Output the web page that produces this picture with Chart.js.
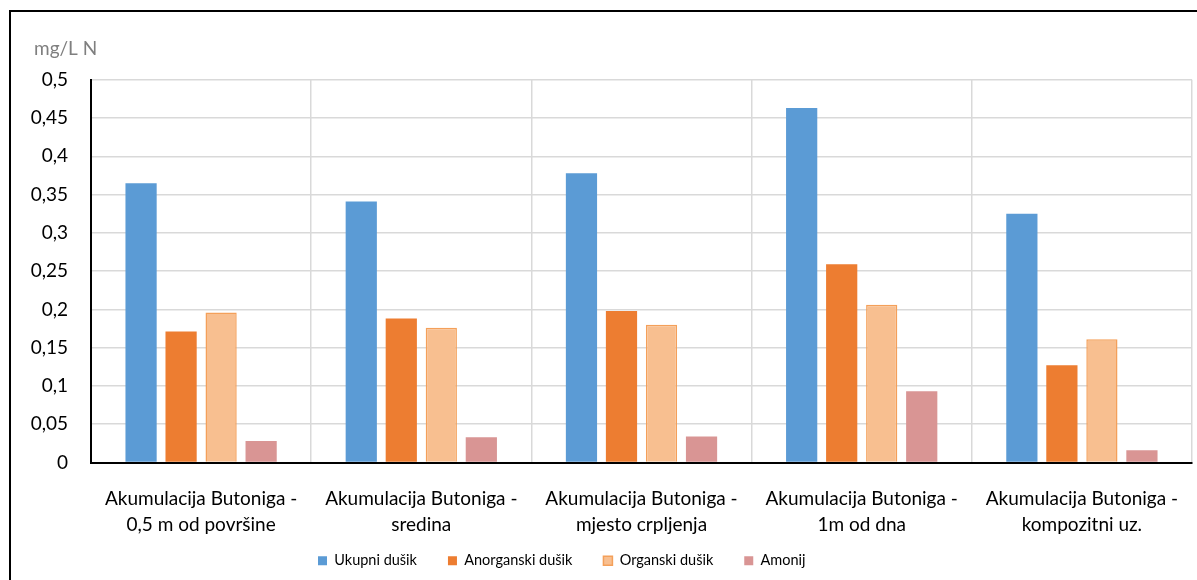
<!DOCTYPE html>
<html>
<head>
<meta charset="utf-8">
<script src="https://cdn.jsdelivr.net/npm/chart.js@4/dist/chart.umd.min.js"></script>
<style>
  body { margin: 0; background: #fff; }
  #wrap { position: relative; width: 1197px; height: 580px; overflow: hidden; }
  #frame { position: absolute; left: 9px; top: 10px; width: 1300px; height: 700px;
           border-left: 2px solid #000; border-top: 2px solid #000; pointer-events: none; }
</style>
</head>
<body>
<div id="wrap">
  <canvas id="chart" width="1197" height="580"></canvas>
  <div id="frame"></div>
</div>
<script>
// data
const categories = [
  ['Akumulacija Butoniga -', '0,5 m od površine'],
  ['Akumulacija Butoniga -', 'sredina'],
  ['Akumulacija Butoniga -', 'mjesto crpljenja'],
  ['Akumulacija Butoniga -', '1m od dna'],
  ['Akumulacija Butoniga -', 'kompozitni uz.']
];
const ukupniDusik = [0.365, 0.341, 0.378, 0.463, 0.325];
const anorganskiDusik = [0.171, 0.188, 0.198, 0.259, 0.127];
const organskiDusik = [0.196, 0.176, 0.180, 0.206, 0.161];
const amonij = [0.028, 0.033, 0.034, 0.093, 0.016];
const unitLabel = 'mg/L N';

const font = "Lato, 'Open Sans', sans-serif";
const legendPad = 31;

// Excel put the legend off centre and low, move it there.
// Also let the axis labels spill out of their boxes without being clipped.
const layoutTweaks = {
  id: 'layoutTweaks',
  afterLayout(chart) {
    const lg = chart.legend;
    const x0 = (lg.left + legendPad + lg.right - lg.lineWidths[0]) / 2;
    const dx = 318 - x0;
    const dy = 561 - (lg.top + legendPad + 7.5);
    lg.left += dx;
    lg.right += dx;
    lg.top += dy;
    lg.bottom += dy;
    chart.scales.y.left = 0;
    chart.scales.x.bottom = chart.height;
  }
};

const ctx = document.getElementById('chart');
new Chart(ctx, {
  type: 'bar',
  data: {
    labels: categories,
    datasets: [
      { label: 'Ukupni dušik', data: ukupniDusik, backgroundColor: '#5B9BD5', borderWidth: 0 },
      { label: 'Anorganski dušik', data: anorganskiDusik, backgroundColor: '#ED7D31', borderWidth: 0 },
      { label: 'Organski dušik', data: organskiDusik, backgroundColor: '#F8BF90', borderColor: '#F4A05A', borderWidth: 1.5 },
      { label: 'Amonij', data: amonij, backgroundColor: '#D99594', borderWidth: 0 }
    ]
  },
  options: {
    responsive: false,
    animation: false,
    layout: { padding: { top: 37, left: 34, right: 5, bottom: 0 } },
    datasets: {
      bar: { categoryPercentage: 0.727, barPercentage: 0.78 }
    },
    scales: {
      x: {
        grid: { color: '#D9D9D9', lineWidth: 1.5, drawTicks: false },
        border: { color: '#000', width: 2 },
        afterFit(scale) {
          scale.height = 62;
          scale.paddingLeft = 0;
          scale.paddingRight = 0;
        },
        ticks: { color: '#000', font: { family: font, size: 19, lineHeight: 1.37 }, padding: 23, maxRotation: 0, autoSkip: false }
      },
      y: {
        min: 0, max: 0.5,
        grid: { color: '#D9D9D9', lineWidth: 1.5, drawTicks: false },
        border: { color: '#000', width: 2 },
        afterFit(scale) { scale.width = 57; },
        ticks: {
          stepSize: 0.05,
          color: '#000',
          padding: 23,
          font: { family: font, size: 19 },
          callback: v => String(Math.round(v * 100) / 100).replace('.', ',')
        }
      }
    },
    plugins: {
      title: {
        display: true,
        text: unitLabel,
        align: 'start',
        color: '#7F7F7F',
        font: { family: font, size: 19, weight: 'normal' },
        padding: { top: 0, bottom: 20 }
      },
      legend: {
        position: 'bottom',
        labels: {
          color: '#000',
          boxWidth: 9,
          boxHeight: 9,
          padding: legendPad,
          font: { family: font, size: 14.5 }
        }
      },
      tooltip: { enabled: false }
    }
  },
  plugins: [layoutTweaks]
});
</script>
</body>
</html>
